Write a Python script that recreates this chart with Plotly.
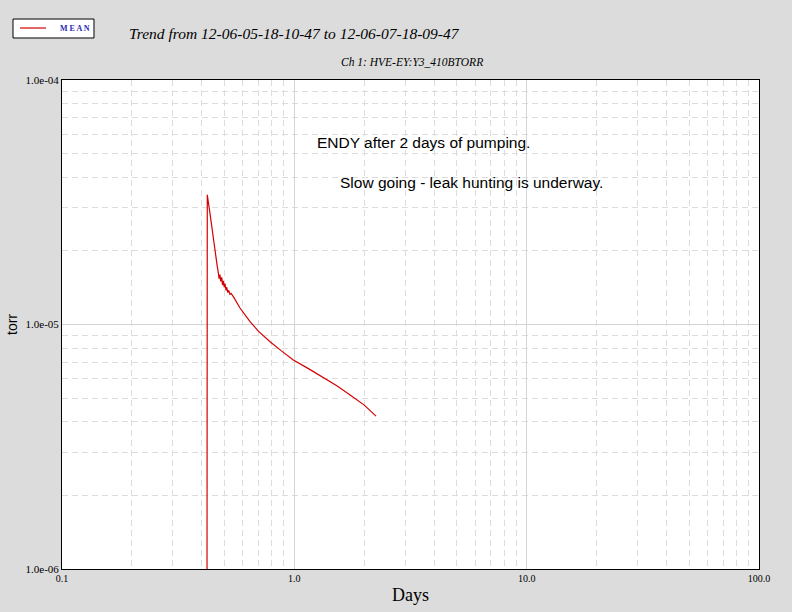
import plotly.graph_objects as go

# data (days, torr)
days = [0.4195, 0.4200, 0.422, 0.4335, 0.4556, 0.4650, 0.4709, 0.4745, 0.4785, 0.4820, 0.4870, 0.4905,
        0.4945, 0.4990, 0.5030, 0.5080, 0.5120, 0.5170, 0.5220, 0.5280, 0.5340, 0.5400,
        0.5463, 0.5837, 0.6446, 0.700, 0.786, 0.880, 0.990, 1.150, 1.333, 1.530, 1.738, 2.000, 2.247]
torr = [1e-8, 3.20e-5, 3.39e-5, 2.85e-5, 1.96e-5, 1.75e-5, 1.625e-5, 1.54e-5, 1.60e-5, 1.50e-5, 1.56e-5, 1.45e-5,
        1.51e-5, 1.42e-5, 1.47e-5, 1.38e-5, 1.42e-5, 1.35e-5, 1.38e-5, 1.33e-5, 1.34e-5, 1.31e-5,
        1.30e-5, 1.168e-5, 1.027e-5, 9.4e-6, 8.5e-6, 7.8e-6, 7.16e-6, 6.60e-6, 6.08e-6, 5.60e-6, 5.15e-6, 4.68e-6, 4.22e-6]

x_ticks = [0.1, 1, 10, 100]
x_ticktext = ["0.1", "1.0", "10.0", "100.0"]
y_ticks = [1e-6, 1e-5, 1e-4]
y_ticktext = ["1.0e-06", "1.0e-05", "1.0e-04"]
x_minor = [m * 10 ** e for e in (-1, 0, 1) for m in range(2, 10)]
y_minor = [m * 10 ** e for e in (-6, -5) for m in range(2, 10)]

title = "Trend from 12-06-05-18-10-47 to 12-06-07-18-09-47"
subtitle = "Ch 1: HVE-EY:Y3_410BTORR"
notes = ["ENDY after 2 days of pumping.", "Slow going - leak hunting is underway."]
legend_label = "M E A N"

SERIF = "Liberation Serif"
SANS = "Liberation Sans"
LINE_COLOR = "#d40000"

fig = go.Figure()
fig.add_trace(go.Scatter(x=days, y=torr, mode="lines", name="MEAN", showlegend=False,
                         line=dict(color=LINE_COLOR, width=1.2)))

axis_common = dict(type="log", showline=True, linecolor="black", linewidth=1, mirror=True,
                   showgrid=True, gridcolor="#d4d4d4", gridwidth=1, ticks="", zeroline=False,
                   automargin=False)

fig.update_xaxes(**axis_common, range=[-1, 2], tickvals=x_ticks, ticktext=x_ticktext,
                 tickfont=dict(family=SERIF, size=10, color="black"),
                 minor=dict(tickvals=x_minor, showgrid=True, gridcolor="#dcdcdc", griddash="6px,4px", ticklen=0),
                 title=dict(text="Days", font=dict(family=SERIF, size=18, color="black"), standoff=5))
fig.update_yaxes(**axis_common, range=[-6, -4], tickvals=y_ticks, ticktext=y_ticktext,
                 tickfont=dict(family=SERIF, size=11, color="black"),
                 minor=dict(tickvals=y_minor, showgrid=True, gridcolor="#dcdcdc", griddash="6px,4px", ticklen=0),
                 title=dict(text="torr", font=dict(family=SANS, size=14, color="black"), standoff=4))

fig.add_annotation(text="<i>" + title + "</i>", xref="paper", yref="paper", x=0.093, y=1.096,
                   xanchor="left", yanchor="middle", showarrow=False,
                   font=dict(family=SERIF, size=15.5, color="black"))
fig.add_annotation(text="<i>" + subtitle + "</i>", xref="paper", yref="paper", x=0.502, y=1.0368,
                   xanchor="center", yanchor="middle", showarrow=False,
                   font=dict(family=SERIF, size=11.5, color="black"))
fig.add_annotation(text=notes[0], xref="paper", yref="paper", x=0.363, y=0.873,
                   xanchor="left", yanchor="middle", showarrow=False,
                   font=dict(family=SANS, size=15.5, color="black"))
fig.add_annotation(text=notes[1], xref="paper", yref="paper", x=0.396, y=0.791,
                   xanchor="left", yanchor="middle", showarrow=False,
                   font=dict(family=SANS, size=15.5, color="black"))

# hand-built legend box (top-left, outside plot area)
fig.add_shape(type="rect", xref="paper", yref="paper", x0=-0.0703, x1=0.0459, y0=1.0859, y1=1.1247,
              line=dict(color="black", width=1), fillcolor="white")
fig.add_shape(type="line", xref="paper", yref="paper", x0=-0.0603, x1=-0.0230, y0=1.1063, y1=1.1063,
              line=dict(color=LINE_COLOR, width=1.2))
fig.add_annotation(text="<b>" + legend_label + "</b>", xref="paper", yref="paper", x=-0.0057, y=1.1063,
                   xanchor="left", yanchor="middle", showarrow=False,
                   font=dict(family=SERIF, size=8, color="#2b2bb0"))

fig.update_layout(
    width=792, height=612,
    margin=dict(l=62, r=33, t=80, b=43),
    paper_bgcolor="#dcdcdc", plot_bgcolor="white",
    showlegend=False,
)

fig.write_html("out.html", config={"displayModeBar": False},
               post_script="document.body.style.margin='0';")
